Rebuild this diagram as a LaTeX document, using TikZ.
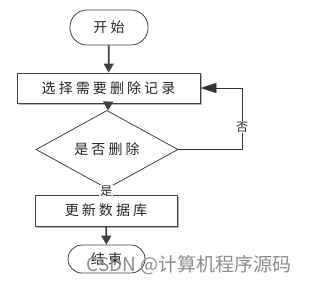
\documentclass[tikz,border=0pt]{standalone}
\usepackage{fontspec}
\newfontfamily\cjk[LetterSpace=22]{Noto Sans CJK SC}
\newfontfamily\cjkwm{Noto Sans CJK SC}
\usetikzlibrary{shapes.geometric,arrows.meta,shadows}
\begin{document}
\begin{tikzpicture}[x=1pt,y=-1pt,
  every node/.style={text=black!85},
  txt/.style={font=\cjk\fontsize{14pt}{14pt}\selectfont},
  term/.style={txt,draw=black!75,line width=0.8pt,rounded corners=14pt,inner sep=0pt},
  proc/.style={txt,draw=black!75,line width=0.8pt,fill=white,inner sep=0pt,
     drop shadow={shadow xshift=1.5pt,shadow yshift=-1.5pt,fill=black!30,opacity=1}},
  dec/.style={txt,diamond,draw=black!75,line width=0.8pt,fill=white,inner sep=0pt},
  flow/.style={line width=1.8pt,draw=black!75,-{Triangle[length=9pt,width=10pt]}},
  thinflow/.style={line width=0.8pt,draw=black!80},
  lab/.style={font=\cjkwm\fontsize{12pt}{12pt}\selectfont,fill=white,inner sep=1pt}
]
\useasboundingbox (0,0) rectangle (310,289);
\node[term,minimum width=78pt,minimum height=35pt,rounded corners=17pt] (start) at (109,27.5) {开始};
\node[proc,minimum width=183pt,minimum height=30pt] (sel) at (108.5,88) {选择需要删除记录};
\node[dec,minimum width=142pt,minimum height=37pt] (dec) at (107,149.5) {是否删除};
\node[proc,minimum width=142pt,minimum height=31pt] (upd) at (106,210.5) {更新数据库};
\node[term,minimum width=77pt,minimum height=28pt] (end) at (106.5,259) {结束};
\draw[flow] (start) -- (sel);
\draw[flow] (sel) -- (dec);
\draw[flow] (upd) -- (end);
\draw[thinflow,-{Triangle[length=4pt,width=4pt]}] (dec) -- node[lab] (yes) {是} (upd);
\coordinate (r) at (242,88);
\draw[thinflow,-{Triangle[length=16pt,width=10pt]}] (dec.east) -| (r) -- (sel.east);
\node[lab] (no) at (242,127) {否};
\node[font=\cjkwm\fontsize{19pt}{19pt}\selectfont,text=black!45,inner sep=0pt] (wm) at (189,265) {CSDN @计算机程序源码};
\end{tikzpicture}
\end{document}
